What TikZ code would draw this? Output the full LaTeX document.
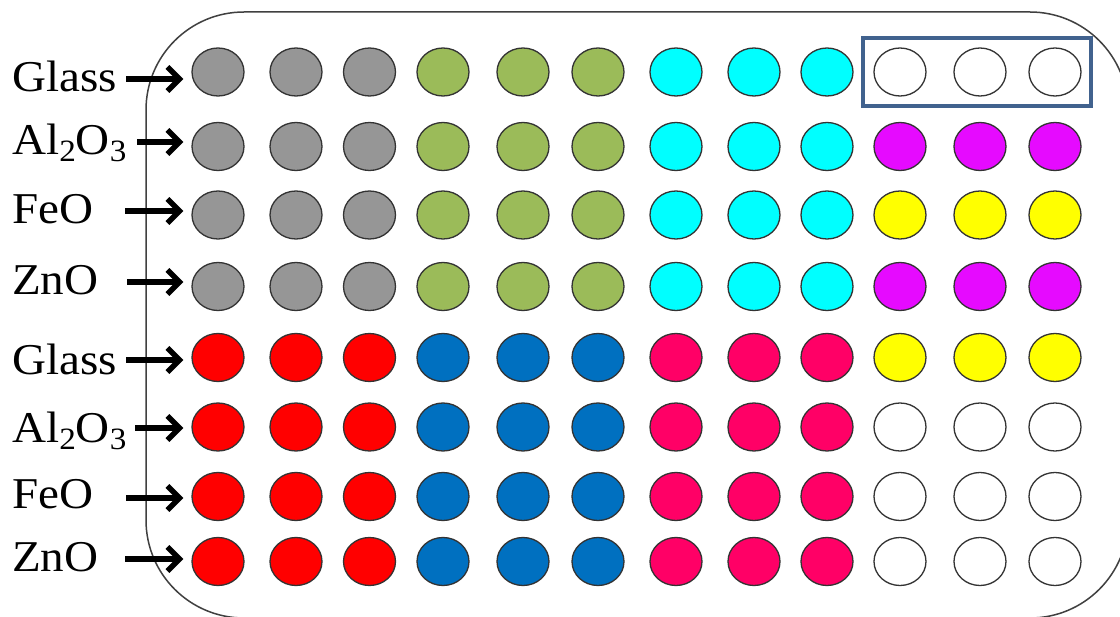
\documentclass[tikz,border=0pt]{standalone}
\usepackage{fontspec}
\setmainfont{Liberation Serif}
\usetikzlibrary{shapes.geometric,arrows.meta}
\definecolor{cgrey}{RGB}{150,150,150}
\definecolor{cgreen}{RGB}{155,187,89}
\definecolor{ccyan}{RGB}{0,255,255}
\definecolor{cmag}{RGB}{230,10,255}
\definecolor{cyel}{RGB}{255,255,0}
\definecolor{cred}{RGB}{255,0,0}
\definecolor{cblue}{RGB}{0,112,192}
\definecolor{cpink}{RGB}{255,0,102}
\definecolor{cframe}{RGB}{64,64,64}
\definecolor{cbox}{RGB}{65,98,142}
\newcommand\chsub[1]{\raisebox{-0.15em}{\fontsize{31}{32}\selectfont #1}}
\begin{document}
\begin{tikzpicture}[x=1pt,y=-1pt,
  dot/.style={ellipse,draw=black!80,line width=1.3pt,minimum width=52pt,minimum height=48pt,inner sep=0pt},
  lab/.style={anchor=base west,inner sep=0pt,font=\fontsize{44}{50}\selectfont},
  arr/.style={line width=5.5pt,-{Straight Barb[length=12pt,width=24pt]},shorten >=8pt}
]
\useasboundingbox (0,0) rectangle (1120,617);
\clip (0,0) rectangle (1120,617);
\fill[white] (0,0) rectangle (1120,617);
% outer frame
\draw[cframe,line width=1.5pt,rounded corners=98pt] (146,12) rectangle (1128,618);
% dots
\foreach \r/\y/\ca/\cb/\cc/\cd in {
  1/72/cgrey/cgreen/ccyan/white,
  2/146.5/cgrey/cgreen/ccyan/cmag,
  3/215/cgrey/cgreen/ccyan/cyel,
  4/286.5/cgrey/cgreen/ccyan/cmag,
  5/357.5/cred/cblue/cpink/cyel,
  6/427/cred/cblue/cpink/white,
  7/496.5/cred/cblue/cpink/white,
  8/561.5/cred/cblue/cpink/white}{
  \foreach \x [count=\c] in {218,296,369.5,443,523,598,676,754,827,900,980,1055}{
    \pgfmathtruncatemacro\g{int((\c-1)/3)}
    \ifcase\g \def\col{\ca}\or \def\col{\cb}\or \def\col{\cc}\or \def\col{\cd}\fi
    \node[dot,fill=\col] (e\r-\c) at (\x,\y) {};
  }
}
% highlight box
\draw[cbox,line width=4pt] (863,38) rectangle (1091,106);
% labels and arrows
\foreach \r/\t/\b/\sx/\ay in {
  1/Glass/92/126/79,
  2/{Al\chsub{2}O\chsub{3}}/155/137/142,
  3/FeO/224/125/211,
  4/ZnO/295/127/282,
  5/Glass/375/126/360,
  6/{Al\chsub{2}O\chsub{3}}/443/135/428,
  7/FeO/509/126/498,
  8/ZnO/572/125/559}{
  \node[lab] (l\r) at (12,\b) {\scalebox{1.07}[1]{\t}};
  \coordinate (s\r) at (\sx,\ay);
  \draw[arr] (s\r) -- (e\r-1.west |- s\r);
}
\end{tikzpicture}
\end{document}
